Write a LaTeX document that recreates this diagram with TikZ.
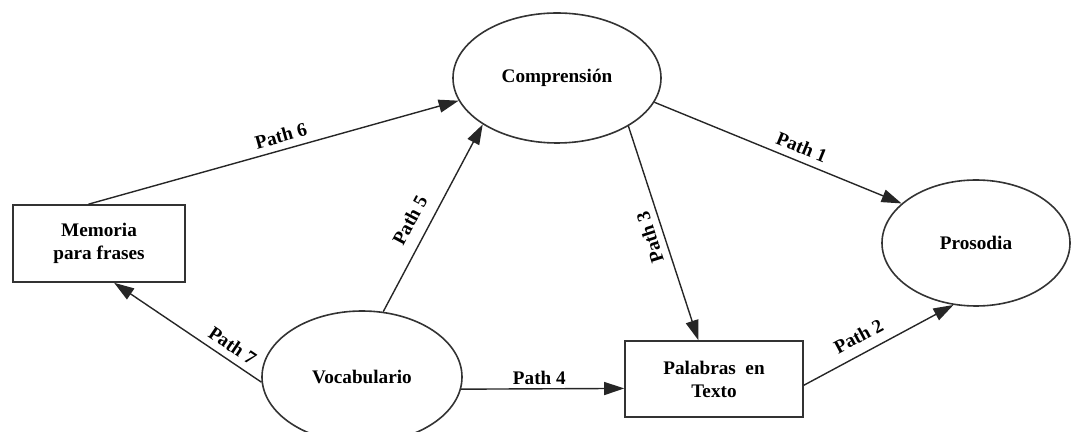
\documentclass[tikz,border=0pt]{standalone}
\usepackage{fontspec}
\setmainfont{Liberation Serif}
\usetikzlibrary{shapes.geometric,arrows.meta}
\begin{document}
\begin{tikzpicture}[x=0.5pt,y=-0.5pt,
  every node/.style={font=\fontsize{9.6}{11.5}\selectfont\bfseries},
  ellnode/.style={ellipse,draw=black!80,line width=0.8pt,inner sep=0pt},
  boxnode/.style={rectangle,draw=black!80,line width=0.8pt,align=center,inner sep=0pt},
  link/.style={draw=black!85,line width=0.7pt,-{Triangle[length=10pt,width=6.5pt]}},
  lbl/.style={sloped,above}]
\useasboundingbox (0,0) rectangle (1072,432);

% concepts
\node[ellnode,minimum width=104pt,minimum height=65pt] (comp) at (557,78) {Comprensión};
\node[ellnode,minimum width=94pt,minimum height=63pt] (pros) at (976,243) {Prosodia};
\node[ellnode,minimum width=100pt,minimum height=66pt] (voc) at (362,377) {Vocabulario};
\node[boxnode,minimum width=86pt,minimum height=38.5pt] (mem) at (99,243.5) {Memoria\\para frases};
\node[boxnode,minimum width=89pt,minimum height=38pt] (pal) at (714,379) {Palabras~ en\\Texto};

% paths between concepts
\draw[link] (mem.105.9) -- node[lbl,pos=0.53] {Path 6} (comp.193.6);
\draw[link] (comp.346.2) -- node[lbl,pos=0.575] {Path 1} (pros.152.8);
\draw[link] (comp.326.1) -- node[pos=0.5,rotate=107.7,anchor=south] {Path 3} (pal.112.8);
\draw[link] (voc.72.3) -- node[lbl,pos=0.44,inner sep=6pt] {Path 5} (comp.212.4);
\draw[link] (voc.353) -- node[lbl,pos=0.48,inner sep=1.8pt] {Path 4} (pal.186.4);
\draw[link] (voc.183.4) -- node[lbl,pos=0.25] {Path 7} (mem.291.3);
\draw[link] (pal.356.1) -- node[lbl,pos=0.42,inner sep=5pt] {Path 2} (pros.250.2);
\end{tikzpicture}
\end{document}
